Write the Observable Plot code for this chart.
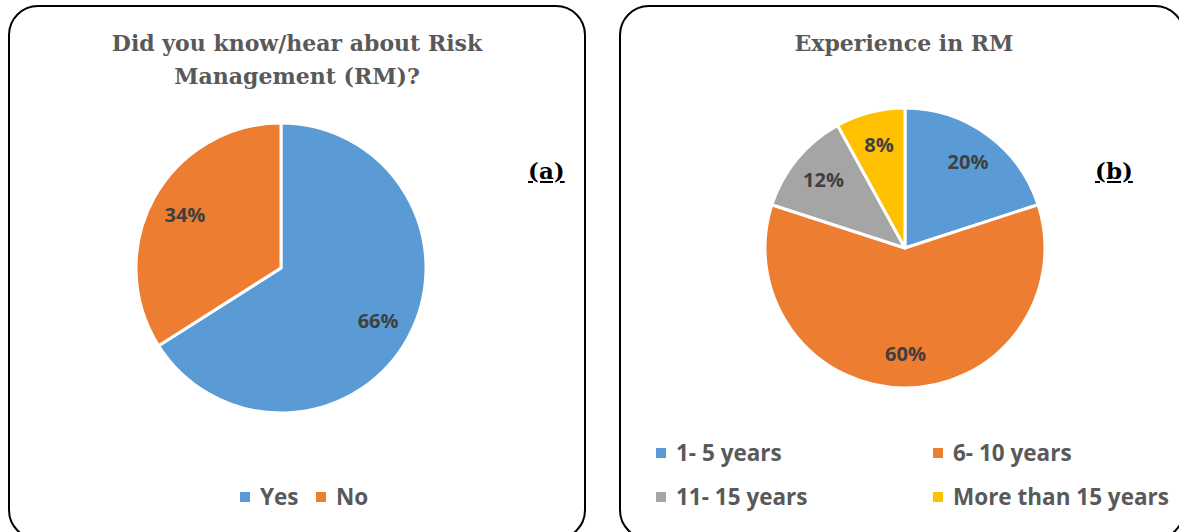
<!DOCTYPE html>
<html><head><meta charset="utf-8">
<script src="https://cdn.jsdelivr.net/npm/d3@7"></script>
<script src="https://cdn.jsdelivr.net/npm/@observablehq/plot@0.6"></script>
<style>
body{margin:0;background:#fff;}
#page{position:relative;width:1179px;height:532px;overflow:hidden;background:#fff;}
.panel{position:absolute;border:2px solid #000;border-radius:30px;box-sizing:border-box;}
.title{position:absolute;font-family:"DejaVu Serif",serif;font-weight:bold;color:#595959;text-align:center;font-size:22px;line-height:33px;white-space:nowrap;}
.tag{position:absolute;font-family:"DejaVu Serif",serif;font-weight:bold;text-decoration:underline;font-size:23px;line-height:30px;color:#000;}
.leg{position:absolute;font-family:"Open Sans",sans-serif;font-weight:bold;font-size:22.5px;line-height:26px;color:#595959;display:flex;align-items:center;white-space:nowrap;}
.sw{width:10px;height:10px;margin-right:10px;display:inline-block;}
.plotwrap{position:absolute;}
</style></head><body><div id="page"></div>
<script>
// ---- data ----
const knowCategories = ["Yes", "No"];
const knowValues = [66, 34];
const knowColors = ["#5B9BD5", "#ED7D31"];
const knowTitle = ["Did you know/hear about Risk", "Management (RM)?"];

const expCategories = ["1- 5 years", "6- 10 years", "11- 15 years", "More than 15 years"];
const expValues = [20, 60, 12, 8];
const expColors = ["#5B9BD5", "#ED7D31", "#A5A5A5", "#FFC000"];
const expTitle = ["Experience in RM"];

const page = document.getElementById("page");

function el(tag, cls, style, html) {
  const e = document.createElement(tag);
  if (cls) e.className = cls;
  Object.assign(e.style, style || {});
  if (html != null) e.innerHTML = html;
  page.appendChild(e);
  return e;
}

function pieChart(cats, vals, cols, R, pad) {
  const data = cats.map((c, i) => ({category: c, value: vals[i]}));
  const arcs = d3.pie().sort(null).value(d => d.value)(data);
  const labels = arcs.map(a => {
    const m = (a.startAngle + a.endAngle) / 2;
    return {label: a.data.value + "%", x: 0.76 * Math.sin(m), y: 0.76 * Math.cos(m)};
  });
  const size = 2 * R + 2 * pad;
  const fallback = d3.scaleOrdinal(cats, cols);
  return Plot.plot({
    width: size, height: size, margin: pad,
    x: {domain: [-1, 1], axis: null},
    y: {domain: [-1, 1], axis: null},
    color: {domain: cats, range: cols},
    style: {background: "transparent", overflow: "visible"},
    marks: [
      (index, scales) => {
        const cx = scales.x(0), cy = scales.y(0), r = scales.x(1) - scales.x(0);
        const color = scales.color || fallback;
        const arc = d3.arc().innerRadius(0).outerRadius(r);
        const g = d3.create("svg:g").attr("transform", `translate(${cx},${cy})`);
        g.selectAll("path").data(arcs).join("path")
          .attr("d", arc)
          .attr("fill", d => color(d.data.category))
          .attr("stroke", "#fff").attr("stroke-width", 3).attr("stroke-linejoin", "round");
        return g.node();
      },
      Plot.text(labels, {x: "x", y: "y", text: "label", fill: "#404040", fontSize: 20, fontWeight: "bold", fontFamily: "Open Sans"})
    ]
  });
}

// panels
el("div", "panel", {left: "8px", top: "5px", width: "578px", height: "535px"});
el("div", "panel", {left: "619px", top: "5px", width: "566px", height: "535px"});

// titles
el("div", "title", {left: "8px", top: "27px", width: "578px"}, knowTitle.join("<br>"));
el("div", "title", {left: "619px", top: "27px", width: "570px"}, expTitle.join("<br>"));
el("div", "tag", {left: "528px", top: "156px"}, "(a)");
el("div", "tag", {left: "1095px", top: "156px"}, "(b)");

// pies
const pad = 10;
const R1 = 145, C1 = [281, 267.5];
const w1 = el("div", "plotwrap", {left: (C1[0] - R1 - pad) + "px", top: (C1[1] - R1 - pad) + "px"});
w1.appendChild(pieChart(knowCategories, knowValues, knowColors, R1, pad));
const R2 = 140, C2 = [905, 248];
const w2 = el("div", "plotwrap", {left: (C2[0] - R2 - pad) + "px", top: (C2[1] - R2 - pad) + "px"});
w2.appendChild(pieChart(expCategories, expValues, expColors, R2, pad));

// legends
function legendItem(label, color, x, yc) {
  el("div", "leg", {left: x + "px", top: (yc - 13) + "px"},
    `<span class="sw" style="background:${color}"></span>${label}`);
}
const knowLegX = [240, 316];
knowCategories.forEach((c, i) => legendItem(c, knowColors[i], knowLegX[i], 497));
const expLegX = [656, 933, 656, 933];
const expLegY = [453, 453, 497, 497];
expCategories.forEach((c, i) => legendItem(c, expColors[i], expLegX[i], expLegY[i]));
</script>
</body></html>
